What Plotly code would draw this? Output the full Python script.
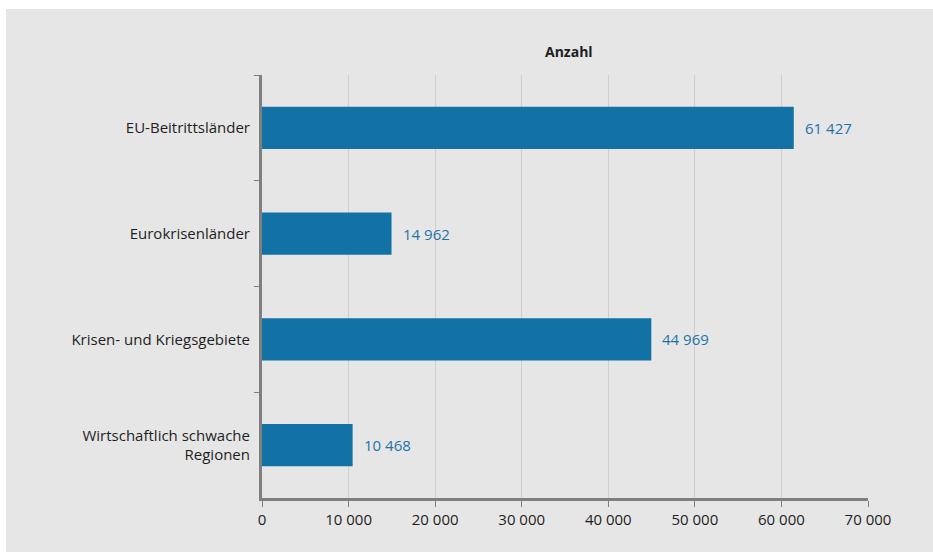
import plotly.graph_objects as go

categories = ["EU-Beitrittsländer", "Eurokrisenländer", "Krisen- und Kriegsgebiete",
              "Wirtschaftlich schwache<br>Regionen"]
values = [61427, 14962, 44969, 10468]
value_labels = ["61 427", "14 962", "44 969", "10 468"]
tick_vals = [0, 10000, 20000, 30000, 40000, 50000, 60000, 70000]
tick_text = ["0", "10 000", "20 000", "30 000", "40 000", "50 000", "60 000", "70 000"]

W, H = 933, 552
L, R, T, B = 262, 65, 75, 54
pw, ph = W - L - R, H - T - B

def px_x(p):
    return (p - L) / pw

def px_y(p):
    return (H - B - p) / ph

FONT = "Open Sans"
BAR = "#1272a5"
AX = "#7f7f7f"
TXT = "#1e1e1e"

fig = go.Figure(go.Bar(
    x=values, y=categories, orientation="h",
    marker=dict(color=BAR, line=dict(width=0)),
    width=0.4,
    hoverinfo="x+y",
))

annotations = [dict(text="<b>Anzahl</b>", xref="paper", yref="paper",
                    x=px_x(569), y=px_y(40), showarrow=False,
                    font=dict(size=14, color=TXT, family=FONT))]
for cat, v, lab in zip(categories, values, value_labels):
    annotations.append(dict(x=v, y=cat, xref="x", yref="y", text=lab,
                            showarrow=False, xanchor="left", xshift=9,
                            font=dict(size=15, color="#1f73a8", family=FONT)))

fig.update_layout(
    width=W, height=H,
    margin=dict(l=L, r=R, t=T, b=B),
    paper_bgcolor="#e6e6e6", plot_bgcolor="#e6e6e6",
    font=dict(family=FONT, size=15, color=TXT),
    showlegend=False,
    xaxis=dict(range=[0, 70000], tickvals=tick_vals, ticktext=tick_text,
               showgrid=True, gridcolor="#cfcfcf", gridwidth=1,
               showline=True, linecolor=AX, linewidth=3,
               ticks="outside", ticklen=6, tickcolor=AX, tickwidth=1,
               tickfont=dict(size=15, color=TXT), zeroline=False,
               fixedrange=True),
    yaxis=dict(autorange=False, range=[3.5, -0.5], type="category",
               showline=True, linecolor=AX, linewidth=3,
               ticks="outside", ticklen=5, tickcolor=AX, tickwidth=1,
               tickson="boundaries", showgrid=False,
               tickfont=dict(size=15, color=TXT), ticklabelstandoff=6),
    shapes=[
        dict(type="rect", xref="paper", yref="paper", x0=px_x(0), x1=px_x(W),
             y0=px_y(9), y1=px_y(0), fillcolor="white", line=dict(width=0), layer="above"),
        dict(type="rect", xref="paper", yref="paper", x0=px_x(0), x1=px_x(6),
             y0=px_y(H), y1=px_y(0), fillcolor="white", line=dict(width=0), layer="above"),
    ],
    annotations=annotations,
)

fig.write_html("out.html")
